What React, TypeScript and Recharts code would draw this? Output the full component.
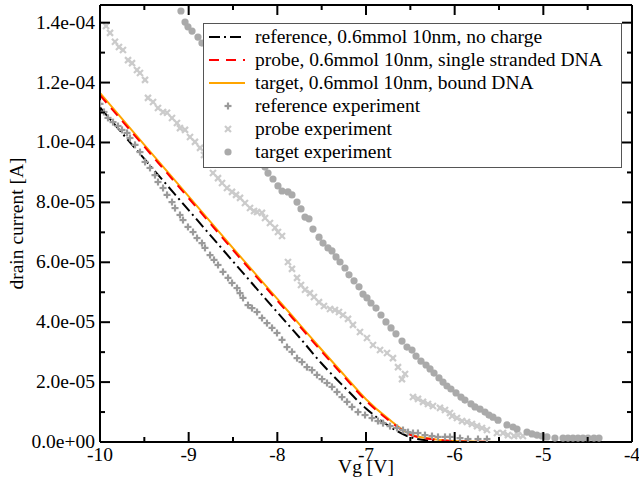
import React from 'react';
import { ComposedChart, Line, Scatter, XAxis, YAxis, Legend } from 'recharts';

const FONT = "'Liberation Serif', 'Times New Roman', serif";
const FS = 19.5;

// ---- axis ticks ----
const xMajorTicks = [-10, -9, -8, -7, -6, -5, -4];
const xMinorTicks = [-9.5, -8.5, -7.5, -6.5, -5.5, -4.5];
const xTickLabels = ['-10', '-9', '-8', '-7', '-6', '-5', '-4'];
const yMajorTicks = [0, 2e-5, 4e-5, 6e-5, 8e-5, 10e-5, 12e-5, 14e-5];
const yMinorTicks = [1e-5, 3e-5, 5e-5, 7e-5, 9e-5, 11e-5, 13e-5];
const yTickLabels = ['0.0e+00', '2.0e-05', '4.0e-05', '6.0e-05', '8.0e-05', '1.0e-04', '1.2e-04', '1.4e-04'];
const xDomain = [-10, -4];
const yDomain = [0, 14.59e-5];

// ---- model curves (Vg [V], drain current [A]) ----
const modelV = [-10, -9.5, -9, -8.5, -8, -7.75, -7.5, -7.25, -7, -6.75, -6.5, -6.25, -6, -5.75, -5.5];
const refModelI = [11.17e-5, 9.45e-5, 7.74e-5, 6.03e-5, 4.33e-5, 3.49e-5, 2.62e-5, 1.85e-5, 1.12e-5, 0.55e-5, 0.16e-5, 0.04e-5, 0.01e-5, 0, 0];
const probeModelI = [11.58e-5, 9.86e-5, 8.14e-5, 6.41e-5, 4.72e-5, 3.87e-5, 3.02e-5, 2.19e-5, 1.38e-5, 0.74e-5, 0.24e-5, 0.09e-5, 0.03e-5, 0.01e-5, 0];
const targetModelI = [11.65e-5, 9.92e-5, 8.20e-5, 6.47e-5, 4.78e-5, 3.93e-5, 3.08e-5, 2.25e-5, 1.43e-5, 0.78e-5, 0.26e-5, 0.10e-5, 0.03e-5, 0.01e-5, 0];

// ---- experiments ----
const refExpV = [-10.0, -9.955, -9.91, -9.853, -9.797, -9.752, -9.695, -9.662, -9.605, -9.549, -9.492, -9.436, -9.38, -9.346, -9.289, -9.244, -9.188, -9.154, -9.098, -9.064, -9.008, -8.951, -8.906, -8.85, -8.816, -8.759, -8.714, -8.669, -8.613, -8.556, -8.511, -8.455, -8.421, -8.387, -8.331, -8.286, -8.229, -8.173, -8.117, -8.06, -8.004, -7.947, -7.891, -7.835, -7.778, -7.722, -7.666, -7.609, -7.553, -7.496, -7.44, -7.384, -7.327, -7.271, -7.214, -7.158, -7.09, -7.011, -6.932, -6.865, -6.808, -6.729, -6.65, -6.583, -6.526, -6.47, -6.414, -6.335, -6.256, -6.188, -6.109, -6.053, -5.94, -5.85, -5.737, -5.636];
const refExpI = [11.29e-5, 11.02e-5, 10.82e-5, 10.68e-5, 10.55e-5, 10.42e-5, 10.32e-5, 10.15e-5, 9.92e-5, 9.68e-5, 9.35e-5, 9.15e-5, 8.91e-5, 8.68e-5, 8.48e-5, 8.25e-5, 8.01e-5, 7.81e-5, 7.58e-5, 7.41e-5, 7.18e-5, 7.01e-5, 6.81e-5, 6.64e-5, 6.48e-5, 6.24e-5, 6.08e-5, 5.91e-5, 5.68e-5, 5.48e-5, 5.31e-5, 5.14e-5, 4.97e-5, 4.81e-5, 4.57e-5, 4.47e-5, 4.34e-5, 4.14e-5, 3.97e-5, 3.81e-5, 3.64e-5, 3.41e-5, 3.17e-5, 3.01e-5, 2.8e-5, 2.67e-5, 2.5e-5, 2.4e-5, 2.24e-5, 2.1e-5, 1.97e-5, 1.84e-5, 1.67e-5, 1.5e-5, 1.34e-5, 1.17e-5, 1.0e-5, 0.9e-5, 0.8e-5, 0.7e-5, 0.63e-5, 0.53e-5, 0.47e-5, 0.4e-5, 0.33e-5, 0.3e-5, 0.3e-5, 0.23e-5, 0.2e-5, 0.17e-5, 0.17e-5, 0.17e-5, 0.13e-5, 0.1e-5, 0.1e-5, 0.1e-5];

const probeExpV = [-9.932, -9.887, -9.831, -9.786, -9.741, -9.684, -9.639, -9.583, -9.549, -9.492, -9.459, -9.402, -9.346, -9.289, -9.244, -9.188, -9.132, -9.098, -9.041, -8.985, -8.929, -8.872, -8.827, -8.782, -8.726, -8.669, -8.624, -8.568, -8.511, -8.466, -8.421, -8.365, -8.308, -8.263, -8.229, -8.173, -8.139, -8.083, -8.026, -7.993, -7.947, -7.88, -7.835, -7.778, -7.733, -7.688, -7.632, -7.587, -7.53, -7.474, -7.406, -7.35, -7.305, -7.26, -7.203, -7.147, -7.068, -6.989, -6.921, -6.842, -6.763, -6.696, -6.639, -6.56, -6.594, -6.47, -6.414, -6.357, -6.301, -6.245, -6.166, -6.109, -6.053, -6.03, -5.974, -5.917, -5.861, -5.805, -5.748, -5.692, -5.636, -5.523, -5.455, -5.399, -5.331, -5.286, -5.23];
const probeExpI = [13.89e-5, 13.66e-5, 13.36e-5, 13.19e-5, 13.09e-5, 12.75e-5, 12.65e-5, 12.42e-5, 12.32e-5, 12.09e-5, 11.49e-5, 11.35e-5, 11.15e-5, 11.02e-5, 10.99e-5, 10.82e-5, 10.65e-5, 10.48e-5, 10.42e-5, 10.18e-5, 10.02e-5, 9.82e-5, 9.58e-5, 9.32e-5, 8.98e-5, 8.81e-5, 8.65e-5, 8.48e-5, 8.35e-5, 8.25e-5, 8.15e-5, 7.98e-5, 7.81e-5, 7.71e-5, 7.68e-5, 7.65e-5, 7.48e-5, 7.31e-5, 7.15e-5, 7.01e-5, 6.88e-5, 6.01e-5, 5.78e-5, 5.48e-5, 5.24e-5, 5.08e-5, 4.97e-5, 4.84e-5, 4.67e-5, 4.54e-5, 4.44e-5, 4.41e-5, 4.34e-5, 4.24e-5, 4.11e-5, 3.91e-5, 3.67e-5, 3.47e-5, 3.24e-5, 3.07e-5, 2.97e-5, 2.8e-5, 2.5e-5, 2.27e-5, 2.1e-5, 1.5e-5, 1.44e-5, 1.34e-5, 1.27e-5, 1.2e-5, 1.14e-5, 1.07e-5, 0.97e-5, 0.87e-5, 0.8e-5, 0.7e-5, 0.67e-5, 0.6e-5, 0.53e-5, 0.47e-5, 0.4e-5, 0.3e-5, 0.3e-5, 0.23e-5, 0.2e-5, 0.23e-5, 0.2e-5];

const targetExpV = [-9.087, -9.041, -9.008, -8.962, -8.895, -8.85, -8.793, -8.737, -8.681, -8.624, -8.568, -8.511, -8.455, -8.399, -8.342, -8.286, -8.229, -8.184, -8.139, -8.105, -8.049, -7.993, -7.947, -7.88, -7.835, -7.778, -7.733, -7.688, -7.643, -7.598, -7.53, -7.485, -7.429, -7.384, -7.338, -7.293, -7.237, -7.192, -7.135, -7.079, -7.034, -6.989, -6.944, -6.887, -6.831, -6.775, -6.718, -6.662, -6.594, -6.538, -6.481, -6.436, -6.38, -6.323, -6.278, -6.233, -6.177, -6.132, -6.087, -6.042, -5.985, -5.929, -5.884, -5.816, -5.771, -5.714, -5.658, -5.613, -5.568, -5.511, -5.41, -5.342, -5.297, -5.184, -5.128, -5.072, -5.015, -4.959, -4.869, -4.778, -4.722, -4.666, -4.609, -4.553, -4.496, -4.429, -4.372];
const targetExpI = [14.39e-5, 14.02e-5, 13.86e-5, 13.72e-5, 13.52e-5, 13.32e-5, 13.02e-5, 12.69e-5, 12.35e-5, 12.02e-5, 11.69e-5, 11.35e-5, 11.02e-5, 10.68e-5, 10.35e-5, 10.02e-5, 9.68e-5, 9.42e-5, 9.18e-5, 8.98e-5, 8.78e-5, 8.55e-5, 8.38e-5, 8.35e-5, 8.25e-5, 8.01e-5, 7.78e-5, 7.51e-5, 7.45e-5, 7.11e-5, 6.84e-5, 6.64e-5, 6.48e-5, 6.38e-5, 6.18e-5, 6.01e-5, 5.81e-5, 5.58e-5, 5.38e-5, 5.18e-5, 4.94e-5, 4.81e-5, 4.64e-5, 4.47e-5, 4.24e-5, 4.01e-5, 3.81e-5, 3.61e-5, 3.37e-5, 3.17e-5, 3.07e-5, 2.87e-5, 2.7e-5, 2.57e-5, 2.44e-5, 2.3e-5, 2.14e-5, 2.0e-5, 1.87e-5, 1.77e-5, 1.64e-5, 1.5e-5, 1.4e-5, 1.27e-5, 1.17e-5, 1.1e-5, 1.0e-5, 0.9e-5, 0.83e-5, 0.73e-5, 0.57e-5, 0.5e-5, 0.43e-5, 0.33e-5, 0.27e-5, 0.23e-5, 0.2e-5, 0.17e-5, 0.13e-5, 0.13e-5, 0.13e-5, 0.13e-5, 0.13e-5, 0.13e-5, 0.13e-5, 0.13e-5, 0.13e-5];

const seriesNames = [
  'reference, 0.6mmol 10nm, no charge',
  'probe, 0.6mmol 10nm, single stranded DNA',
  'target, 0.6mmol 10nm, bound DNA',
  'reference experiment',
  'probe experiment',
  'target experiment',
];

const toRows = (vs: number[], is: number[]) => vs.map((v, k) => ({ v, i: is[k] }));
const refModel = toRows(modelV, refModelI);
const probeModel = toRows(modelV, probeModelI);
const targetModel = toRows(modelV, targetModelI);
const refExp = toRows(refExpV, refExpI);
const probeExp = toRows(probeExpV, probeExpI);
const targetExp = toRows(targetExpV, targetExpI);

// ---- styles ----
const C_REF = '#000000';
const C_PROBE = '#ff0000';
const C_TARGET = '#ffa500';
const C_REF_EXP = '#9a9a9a';
const C_PROBE_EXP = '#cbcbcb';
const C_TARGET_EXP = '#aaaaaa';
const DASH_REF = '11 4 2 4';
const DASH_PROBE = '10 7';
const MAJOR = 10;
const MINOR = 5;

const PlusMark = ({ cx, cy, color }: any) => (
  <g stroke={color} strokeWidth={2.2}>
    <line x1={cx - 3.5} x2={cx + 3.5} y1={cy} y2={cy} />
    <line x1={cx} x2={cx} y1={cy - 3.5} y2={cy + 3.5} />
  </g>
);
const CrossMark = ({ cx, cy, color }: any) => (
  <g stroke={color} strokeWidth={2.2}>
    <line x1={cx - 3} x2={cx + 3} y1={cy - 3} y2={cy + 3} />
    <line x1={cx - 3} x2={cx + 3} y1={cy + 3} y2={cy - 3} />
  </g>
);
const DotMark = ({ cx, cy, color }: any) => <circle cx={cx} cy={cy} r={3.6} fill={color} />;

const isMajorX = (v: number) => xMajorTicks.indexOf(v) >= 0;
const isMajorY = (v: number) => yMajorTicks.indexOf(v) >= 0;

const BottomTick = (p: any) => {
  const v = p.payload.value;
  const k = xMajorTicks.indexOf(v);
  const len = k >= 0 ? MAJOR : MINOR;
  return (
    <g>
      <line x1={p.x} x2={p.x} y1={p.y} y2={p.y - len} stroke="#000" strokeWidth={2} />
      {k >= 0 && (
        <text x={p.x} y={p.y + 19} textAnchor="middle" fontFamily={FONT} fontSize={FS} fill="#000">
          {xTickLabels[k]}
        </text>
      )}
    </g>
  );
};
const TopTick = (p: any) => {
  const len = isMajorX(p.payload.value) ? MAJOR : MINOR;
  return <line x1={p.x} x2={p.x} y1={p.y} y2={p.y + len} stroke="#000" strokeWidth={2} />;
};
const LeftTick = (p: any) => {
  const v = p.payload.value;
  const k = yMajorTicks.indexOf(v);
  const len = k >= 0 ? MAJOR : MINOR;
  return (
    <g>
      <line x1={p.x} x2={p.x + len} y1={p.y} y2={p.y} stroke="#000" strokeWidth={2} />
      {k >= 0 && (
        <text x={p.x - 5} y={p.y + 6} textAnchor="end" fontFamily={FONT} fontSize={FS} fill="#000">
          {yTickLabels[k]}
        </text>
      )}
    </g>
  );
};
const RightTick = (p: any) => {
  const len = isMajorY(p.payload.value) ? MAJOR : MINOR;
  return <line x1={p.x} x2={p.x - len} y1={p.y} y2={p.y} stroke="#000" strokeWidth={2} />;
};

const legendSamples = [
  <line x1={1} x2={37} y1={8} y2={8} stroke={C_REF} strokeWidth={2} strokeDasharray={DASH_REF} />,
  <line x1={1} x2={37} y1={8} y2={8} stroke={C_PROBE} strokeWidth={2} strokeDasharray={DASH_PROBE} />,
  <line x1={1} x2={37} y1={8} y2={8} stroke={C_TARGET} strokeWidth={2} />,
  <PlusMark cx={20} cy={8} color={C_REF_EXP} />,
  <CrossMark cx={20} cy={8} color={C_PROBE_EXP} />,
  <DotMark cx={20} cy={8} color={C_TARGET_EXP} />,
];

const LegendBox = () => (
  <div
    style={{
      width: '100%',
      height: '100%',
      boxSizing: 'border-box',
      border: '1px solid #555',
      background: '#fff',
      paddingTop: 1,
      fontFamily: FONT,
      fontSize: FS,
      color: '#000',
    }}
  >
    {seriesNames.map((name, k) => (
      <div key={name} style={{ display: 'flex', alignItems: 'center', height: 23, whiteSpace: 'nowrap' }}>
        <svg width={40} height={16} style={{ marginLeft: 4, flex: 'none' }}>
          {legendSamples[k]}
        </svg>
        <span style={{ marginLeft: 7, lineHeight: '23px' }}>{name}</span>
      </div>
    ))}
  </div>
);

const YLabel = (p: any) => {
  const vb = p.viewBox;
  return (
    <text
      transform={`translate(${vb.x + 23}, ${vb.y + vb.height / 2}) rotate(-90)`}
      textAnchor="middle"
      fontFamily={FONT}
      fontSize={FS}
      fill="#000"
    >
      drain current [A]
    </text>
  );
};
const XLabel = (p: any) => {
  const vb = p.viewBox;
  return (
    <text x={vb.x + vb.width / 2} y={vb.y + 31} textAnchor="middle" fontFamily={FONT} fontSize={FS} fill="#000">
      Vg [V]
    </text>
  );
};

const xTicks = [...xMajorTicks, ...xMinorTicks].sort((a, b) => a - b);
const yTicks = [...yMajorTicks, ...yMinorTicks].sort((a, b) => a - b);
const axisLine = { stroke: '#000', strokeWidth: 2 };

export default function App() {
  return (
    <div style={{ position: 'absolute', left: 0, top: 0, background: '#fff' }}>
      <ComposedChart width={639} height={489} margin={{ top: 0, right: 0, bottom: 0, left: 0 }}>
        <XAxis
          dataKey="v"
          type="number"
          domain={xDomain}
          allowDataOverflow
          ticks={xTicks}
          interval={0}
          height={47}
          tickSize={0}
          tickMargin={0}
          tickLine={false}
          axisLine={axisLine}
          tick={BottomTick}
          label={{ content: XLabel }}
        />
        <XAxis
          xAxisId="top"
          orientation="top"
          dataKey="v"
          type="number"
          domain={xDomain}
          allowDataOverflow
          ticks={xTicks}
          interval={0}
          height={5}
          tickSize={0}
          tickMargin={0}
          tickLine={false}
          axisLine={axisLine}
          tick={TopTick}
        />
        <YAxis
          dataKey="i"
          type="number"
          domain={yDomain}
          allowDataOverflow
          ticks={yTicks}
          interval={0}
          width={100}
          tickSize={0}
          tickMargin={0}
          tickLine={false}
          axisLine={axisLine}
          tick={LeftTick}
          label={{ content: YLabel }}
        />
        <YAxis
          yAxisId="right"
          orientation="right"
          dataKey="i"
          type="number"
          domain={yDomain}
          allowDataOverflow
          ticks={yTicks}
          interval={0}
          width={7}
          tickSize={0}
          tickMargin={0}
          tickLine={false}
          axisLine={axisLine}
          tick={RightTick}
        />
        <Scatter
          name={seriesNames[3]}
          data={refExp}
          xAxisId="top"
          yAxisId="right"
          isAnimationActive={false}
          shape={(p: any) => <PlusMark cx={p.cx} cy={p.cy} color={C_REF_EXP} />}
        />
        <Scatter
          name={seriesNames[4]}
          data={probeExp}
          isAnimationActive={false}
          shape={(p: any) => <CrossMark cx={p.cx} cy={p.cy} color={C_PROBE_EXP} />}
        />
        <Scatter
          name={seriesNames[5]}
          data={targetExp}
          isAnimationActive={false}
          shape={(p: any) => <DotMark cx={p.cx} cy={p.cy} color={C_TARGET_EXP} />}
        />
        <Line
          name={seriesNames[0]}
          data={refModel}
          dataKey="i"
          type="monotone"
          stroke={C_REF}
          strokeWidth={2}
          strokeDasharray={DASH_REF}
          dot={false}
          activeDot={false}
          isAnimationActive={false}
        />
        <Line
          name={seriesNames[2]}
          data={targetModel}
          dataKey="i"
          type="monotone"
          stroke={C_TARGET}
          strokeWidth={2}
          dot={false}
          activeDot={false}
          isAnimationActive={false}
        />
        <Line
          name={seriesNames[1]}
          data={probeModel}
          dataKey="i"
          type="monotone"
          stroke={C_PROBE}
          strokeWidth={2}
          strokeDasharray={DASH_PROBE}
          dot={false}
          activeDot={false}
          isAnimationActive={false}
        />
        <Legend
          layout="horizontal"
          verticalAlign="middle"
          align="center"
          wrapperStyle={{ left: 203, top: 23, width: 419, height: 145 }}
          content={() => <LegendBox />}
        />
      </ComposedChart>
    </div>
  );
}
